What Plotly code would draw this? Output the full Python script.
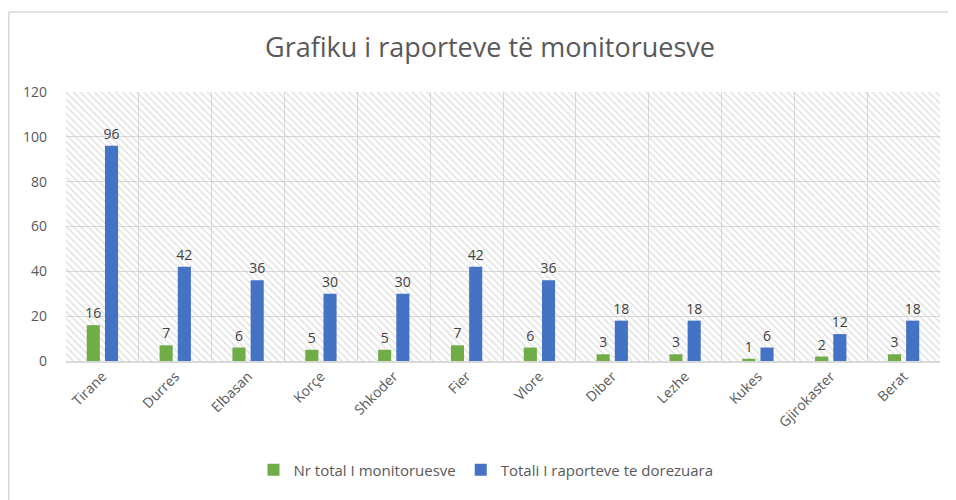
"""
Grafiku i raporteve te monitoruesve
"""

import plotly.graph_objects as go

# =====================================================
# Data
# =====================================================

qarqet = [
    "Tirane", "Durres", "Elbasan", "Korçe", "Shkoder", "Fier",
    "Vlore", "Diber", "Lezhe", "Kukes", "Gjirokaster", "Berat",
]

monitoruesit = [16, 7, 6, 5, 5, 7, 6, 3, 3, 1, 2, 3]

raportet = [96, 42, 36, 30, 30, 42, 36, 18, 18, 6, 12, 18]

y_ticks = [0, 20, 40, 60, 80, 100, 120]

FONT = "Open Sans"
GREEN = "#70ad47"
BLUE = "#4472c4"
TEXT = "#595959"
GRID = "#d9d9d9"

n = len(qarqet)

# the page body keeps its 8px margin, so the figure starts at (8, 8)
W, H = 948, 492
L, R, T, B = 58, 16, 84, 139

plot_w = W - L - R
plot_h = H - T - B

fig = go.Figure()

# =====================================================
# Hatched plot background (main axes, drawn first)
# =====================================================

fig.add_trace(

    go.Bar(

        x=[(n - 1) / 2],

        y=[max(y_ticks)],

        width=[n],

        marker=dict(

            color="rgba(0,0,0,0)",

            line=dict(width=0),

            pattern=dict(

                shape="\\",

                fgcolor="#c4c4c4",

                bgcolor="rgba(0,0,0,0)",

                size=5,

                solidity=0.3

            )

        ),

        showlegend=False,

        hoverinfo="skip",

        xaxis="x",

        yaxis="y"

    )

)

# =====================================================
# Data bars (overlay axis so they sit above the hatch)
# =====================================================

for name, values, color in [

    ("Nr total I monitoruesve", monitoruesit, GREEN),

    ("Totali I raporteve te dorezuara", raportet, BLUE),

]:

    fig.add_trace(

        go.Bar(

            x=qarqet,

            y=values,

            name=name,

            marker=dict(color=color, line=dict(width=0)),

            text=values,

            textposition="outside",

            constraintext="none",

            textfont=dict(family=FONT, size=14, color="#404040"),

            cliponaxis=False,

            xaxis="x2",

            yaxis="y"

        )

    )

# =====================================================
# Outer frame (only left and top edges show in the picture)
# =====================================================

frame_left = (0.8 - L) / plot_w
frame_top = (plot_h + T - 4) / plot_h

fig.add_shape(

    type="line",

    xref="paper",

    yref="paper",

    x0=frame_left,

    x1=frame_left,

    y0=-(B + 5) / plot_h,

    y1=frame_top,

    line=dict(color=GRID, width=1.5)

)

fig.add_shape(

    type="line",

    xref="paper",

    yref="paper",

    x0=frame_left,

    x1=(W + 5 - L) / plot_w,

    y0=frame_top,

    y1=frame_top,

    line=dict(color=GRID, width=1.5)

)

# =====================================================
# Layout
# =====================================================

fig.update_layout(

    title=dict(

        text="Grafiku i raporteve të monitoruesve",

        x=482 / W,

        xanchor="center",

        y=1 - 40 / H,

        yanchor="middle",

        font=dict(family=FONT, size=27, color=TEXT)

    ),

    width=W,

    height=H,

    paper_bgcolor="white",

    plot_bgcolor="white",

    margin=dict(l=L, r=R, t=T, b=B, autoexpand=False),

    barmode="group",

    bargap=0.5,

    bargroupgap=0.28,

    font=dict(family=FONT, color=TEXT),

    legend=dict(

        orientation="h",

        x=(478 - L) / plot_w,

        xanchor="center",

        y=-(462 - (T + plot_h)) / plot_h,

        yanchor="middle",

        font=dict(family=FONT, size=15, color=TEXT),

        itemwidth=30,

        tracegroupgap=0

    ),

    xaxis=dict(

        range=[-0.5, n - 0.5],

        tick0=-0.5,

        dtick=1,

        showgrid=True,

        gridcolor=GRID,

        gridwidth=1,

        showticklabels=False,

        ticks="",

        zeroline=False,

        showline=False,

        automargin=False,

        fixedrange=True

    ),

    xaxis2=dict(

        overlaying="x",

        side="bottom",

        type="category",

        range=[-0.5, n - 0.5],

        showgrid=False,

        tickangle=-45,

        tickfont=dict(family=FONT, size=14, color=TEXT),

        ticks="",

        showline=True,

        linecolor=GRID,

        linewidth=1.5,

        automargin=False

    ),

    yaxis=dict(

        range=[0, max(y_ticks)],

        tickvals=y_ticks,

        showgrid=True,

        gridcolor=GRID,

        gridwidth=1,

        zeroline=False,

        tickfont=dict(family=FONT, size=14, color=TEXT),

        ticks="",

        ticklabelstandoff=18,

        automargin=False

    )

)

fig.write_html("out.html")
